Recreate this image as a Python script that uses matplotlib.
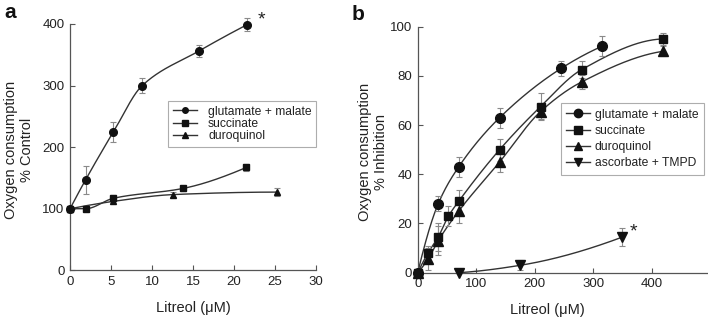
import numpy as np
import matplotlib
matplotlib.use("Agg")
import matplotlib.pyplot as plt
from matplotlib.lines import Line2D

plt.rcParams['font.family'] = ['Liberation Sans', 'DejaVu Sans']

# ---------------- data: panel a ----------------
a_glu_x = [0, 1.9, 5.3, 8.8, 15.7, 21.6]
a_glu_y = [100, 147, 225, 300, 356, 399]
a_glu_e = [0, 23, 16, 12, 10, 10]

a_suc_x = [0, 1.9, 5.3, 13.8, 21.5]
a_suc_y = [100, 100, 117, 133, 167]
a_suc_e = [0, 2, 5, 4, 6]

a_dur_x = [0, 5.3, 12.6, 25.2]
a_dur_y = [100, 112, 123, 127]
a_dur_e = [0, 0, 4, 6]

a_xticks = [0, 5, 10, 15, 20, 25, 30]
a_yticks = [0, 100, 200, 300, 400]

# ---------------- data: panel b ----------------
b_glu_x = [0, 35, 70, 140, 245, 315]
b_glu_y = [0, 28, 43, 63, 83, 92]
b_glu_e = [0, 3, 4, 4, 3, 4]

b_suc_x = [0, 17.5, 35, 52.5, 70, 140, 210, 280, 420]
b_suc_y = [0, 8, 14.5, 23, 29, 50, 67.5, 82.5, 95]
b_suc_e = [0, 3, 5.5, 4, 4.5, 4.5, 5.5, 3.5, 2.5]

b_dur_x = [0, 17.5, 35, 70, 140, 210, 280, 420]
b_dur_y = [0, 5.5, 13, 25, 45, 65.5, 77.5, 90]
b_dur_e = [0, 4.5, 6, 5, 4, 3, 3, 2]

b_asc_x = [70, 175, 350]
b_asc_y = [0, 3, 14.5]
b_asc_e = [0, 2, 3.5]

b_xticks = [0, 100, 200, 300, 400]
b_yticks = [0, 20, 40, 60, 80, 100]

labels_a = ["glutamate + malate", "succinate", "duroquinol"]
labels_b = ["glutamate + malate", "succinate", "duroquinol", "ascorbate + TMPD"]


def pchip(x, y, xs):
    x = np.asarray(x, float); y = np.asarray(y, float)
    h = np.diff(x); d = np.diff(y) / h
    n = len(x)
    m = np.zeros(n)
    for k in range(1, n - 1):
        if d[k - 1] * d[k] > 0:
            w1 = 2 * h[k] + h[k - 1]; w2 = h[k] + 2 * h[k - 1]
            m[k] = (w1 + w2) / (w1 / d[k - 1] + w2 / d[k])

    def endslope(h0, h1, d0, d1):
        s = ((2 * h0 + h1) * d0 - h0 * d1) / (h0 + h1)
        if np.sign(s) != np.sign(d0):
            s = 0.0
        elif np.sign(d0) != np.sign(d1) and abs(s) > abs(3 * d0):
            s = 3 * d0
        return s
    if n > 2:
        m[0] = endslope(h[0], h[1], d[0], d[1])
        m[-1] = endslope(h[-1], h[-2], d[-1], d[-2])
    else:
        m[:] = d[0]
    idx = np.clip(np.searchsorted(x, xs) - 1, 0, n - 2)
    t = (xs - x[idx]) / h[idx]
    h00 = 2 * t**3 - 3 * t**2 + 1
    h10 = t**3 - 2 * t**2 + t
    h01 = -2 * t**3 + 3 * t**2
    h11 = t**3 - t**2
    return h00 * y[idx] + h10 * h[idx] * m[idx] + h01 * y[idx + 1] + h11 * h[idx] * m[idx + 1]


LINE = '#333333'
MARK = '#111111'
ERR = '#8a8a8a'
SPINE = '#555555'


def series(ax, x, y, e, marker, ms):
    xs = np.linspace(x[0], x[-1], 300)
    ax.plot(xs, pchip(x, y, xs), color=LINE, lw=1.0, zorder=2, clip_on=False)
    ax.errorbar(x, y, yerr=e, fmt='none', ecolor=ERR, elinewidth=0.8,
                capsize=2, capthick=0.8, zorder=3, clip_on=False)
    ax.plot(x, y, linestyle='none', marker=marker, ms=ms, color=MARK,
            zorder=4, clip_on=False)


def style(ax):
    for s in ['top', 'right']:
        ax.spines[s].set_visible(False)
    for s in ['left', 'bottom']:
        ax.spines[s].set_color(SPINE)
        ax.spines[s].set_linewidth(0.9)
    ax.tick_params(direction='in', length=3.5, width=0.8, color=SPINE,
                   labelsize=9.5, labelcolor='#222222', pad=4)


fig = plt.figure(figsize=(7.08, 3.2), dpi=100)

# ---------- panel a ----------
axa = fig.add_axes([0.0989, 0.1553, 0.3475, 0.7697])
series(axa, a_dur_x, a_dur_y, a_dur_e, '^', 5)
series(axa, a_suc_x, a_suc_y, a_suc_e, 's', 4.6)
series(axa, a_glu_x, a_glu_y, a_glu_e, 'o', 5.5)
axa.set_xlim(0, 30)
axa.set_ylim(0, 400)
axa.set_xticks(a_xticks)
axa.set_yticks(a_yticks)
style(axa)
axa.text(a_glu_x[-1] + 1.3, a_glu_y[-1] + 8, '*', fontsize=14, ha='left',
         va='center', color='#222222')
ha = [Line2D([], [], color=LINE, lw=1, marker=m, ms=4, markerfacecolor=MARK,
             markeredgecolor=MARK) for m in ['o', 's', '^']]
lga = axa.legend(ha, labels_a, loc='upper left', bbox_to_anchor=(0.40, 0.687),
                 borderaxespad=0, fontsize=8.7, frameon=True, fancybox=False,
                 edgecolor='#999999', handlelength=2.0, handletextpad=0.9,
                 labelspacing=0.02, borderpad=0.38)
lga.get_frame().set_linewidth(0.8)
for t in lga.get_texts():
    t.set_color('#222222')

fig.text(193 / 708, 1 - 308 / 320, 'Litreol (\u03bcM)', ha='center', va='center',
         fontsize=10.5, color='#222222')
fig.text(19 / 708, 1 - 150 / 320, 'Oxygen consumption\n% Control', ha='center',
         va='center', rotation=90, fontsize=10.5, color='#222222',
         multialignment='center', linespacing=1.15)
fig.text(10 / 708, 1 - 13 / 320, 'a', ha='center', va='center', fontsize=15,
         fontweight='bold', color='#111111')

# ---------- panel b ----------
axb = fig.add_axes([0.590, 0.1478, 0.409, 0.769])
series(axb, b_asc_x, b_asc_y, b_asc_e, 'v', 6.5)
series(axb, b_dur_x, b_dur_y, b_dur_e, '^', 6.5)
series(axb, b_suc_x, b_suc_y, b_suc_e, 's', 6)
series(axb, b_glu_x, b_glu_y, b_glu_e, 'o', 7)
axb.set_xlim(0, 495)
axb.set_ylim(0, 100)
axb.set_xticks(b_xticks)
axb.set_yticks(b_yticks)
style(axb)
axb.text(b_asc_x[-1] + 12, b_asc_y[-1] + 2, '*', fontsize=14, ha='left',
         va='center', color='#222222')
hb = [Line2D([], [], color=LINE, lw=1, marker=m, ms=6, markerfacecolor=MARK,
             markeredgecolor=MARK) for m in ['o', 's', '^', 'v']]
lgb = axb.legend(hb, labels_b, loc='upper left', bbox_to_anchor=(0.494, 0.689),
                 borderaxespad=0, fontsize=8.7, frameon=True, fancybox=False,
                 edgecolor='#999999', handlelength=2.0, handletextpad=0.35,
                 labelspacing=0.35, borderpad=0.45)
lgb.get_frame().set_linewidth(0.8)
for t in lgb.get_texts():
    t.set_color('#222222')

fig.text(547 / 708, 1 - 310 / 320, 'Litreol (\u03bcM)', ha='center', va='center',
         fontsize=10.5, color='#222222')
fig.text(373 / 708, 1 - 152 / 320, 'Oxygen consumption\n% Inhibition', ha='center',
         va='center', rotation=90, fontsize=10.5, color='#222222',
         multialignment='center', linespacing=1.15)
fig.text(358 / 708, 1 - 14 / 320, 'b', ha='center', va='center', fontsize=15,
         fontweight='bold', color='#111111')

fig.savefig('out.png', dpi=100)
